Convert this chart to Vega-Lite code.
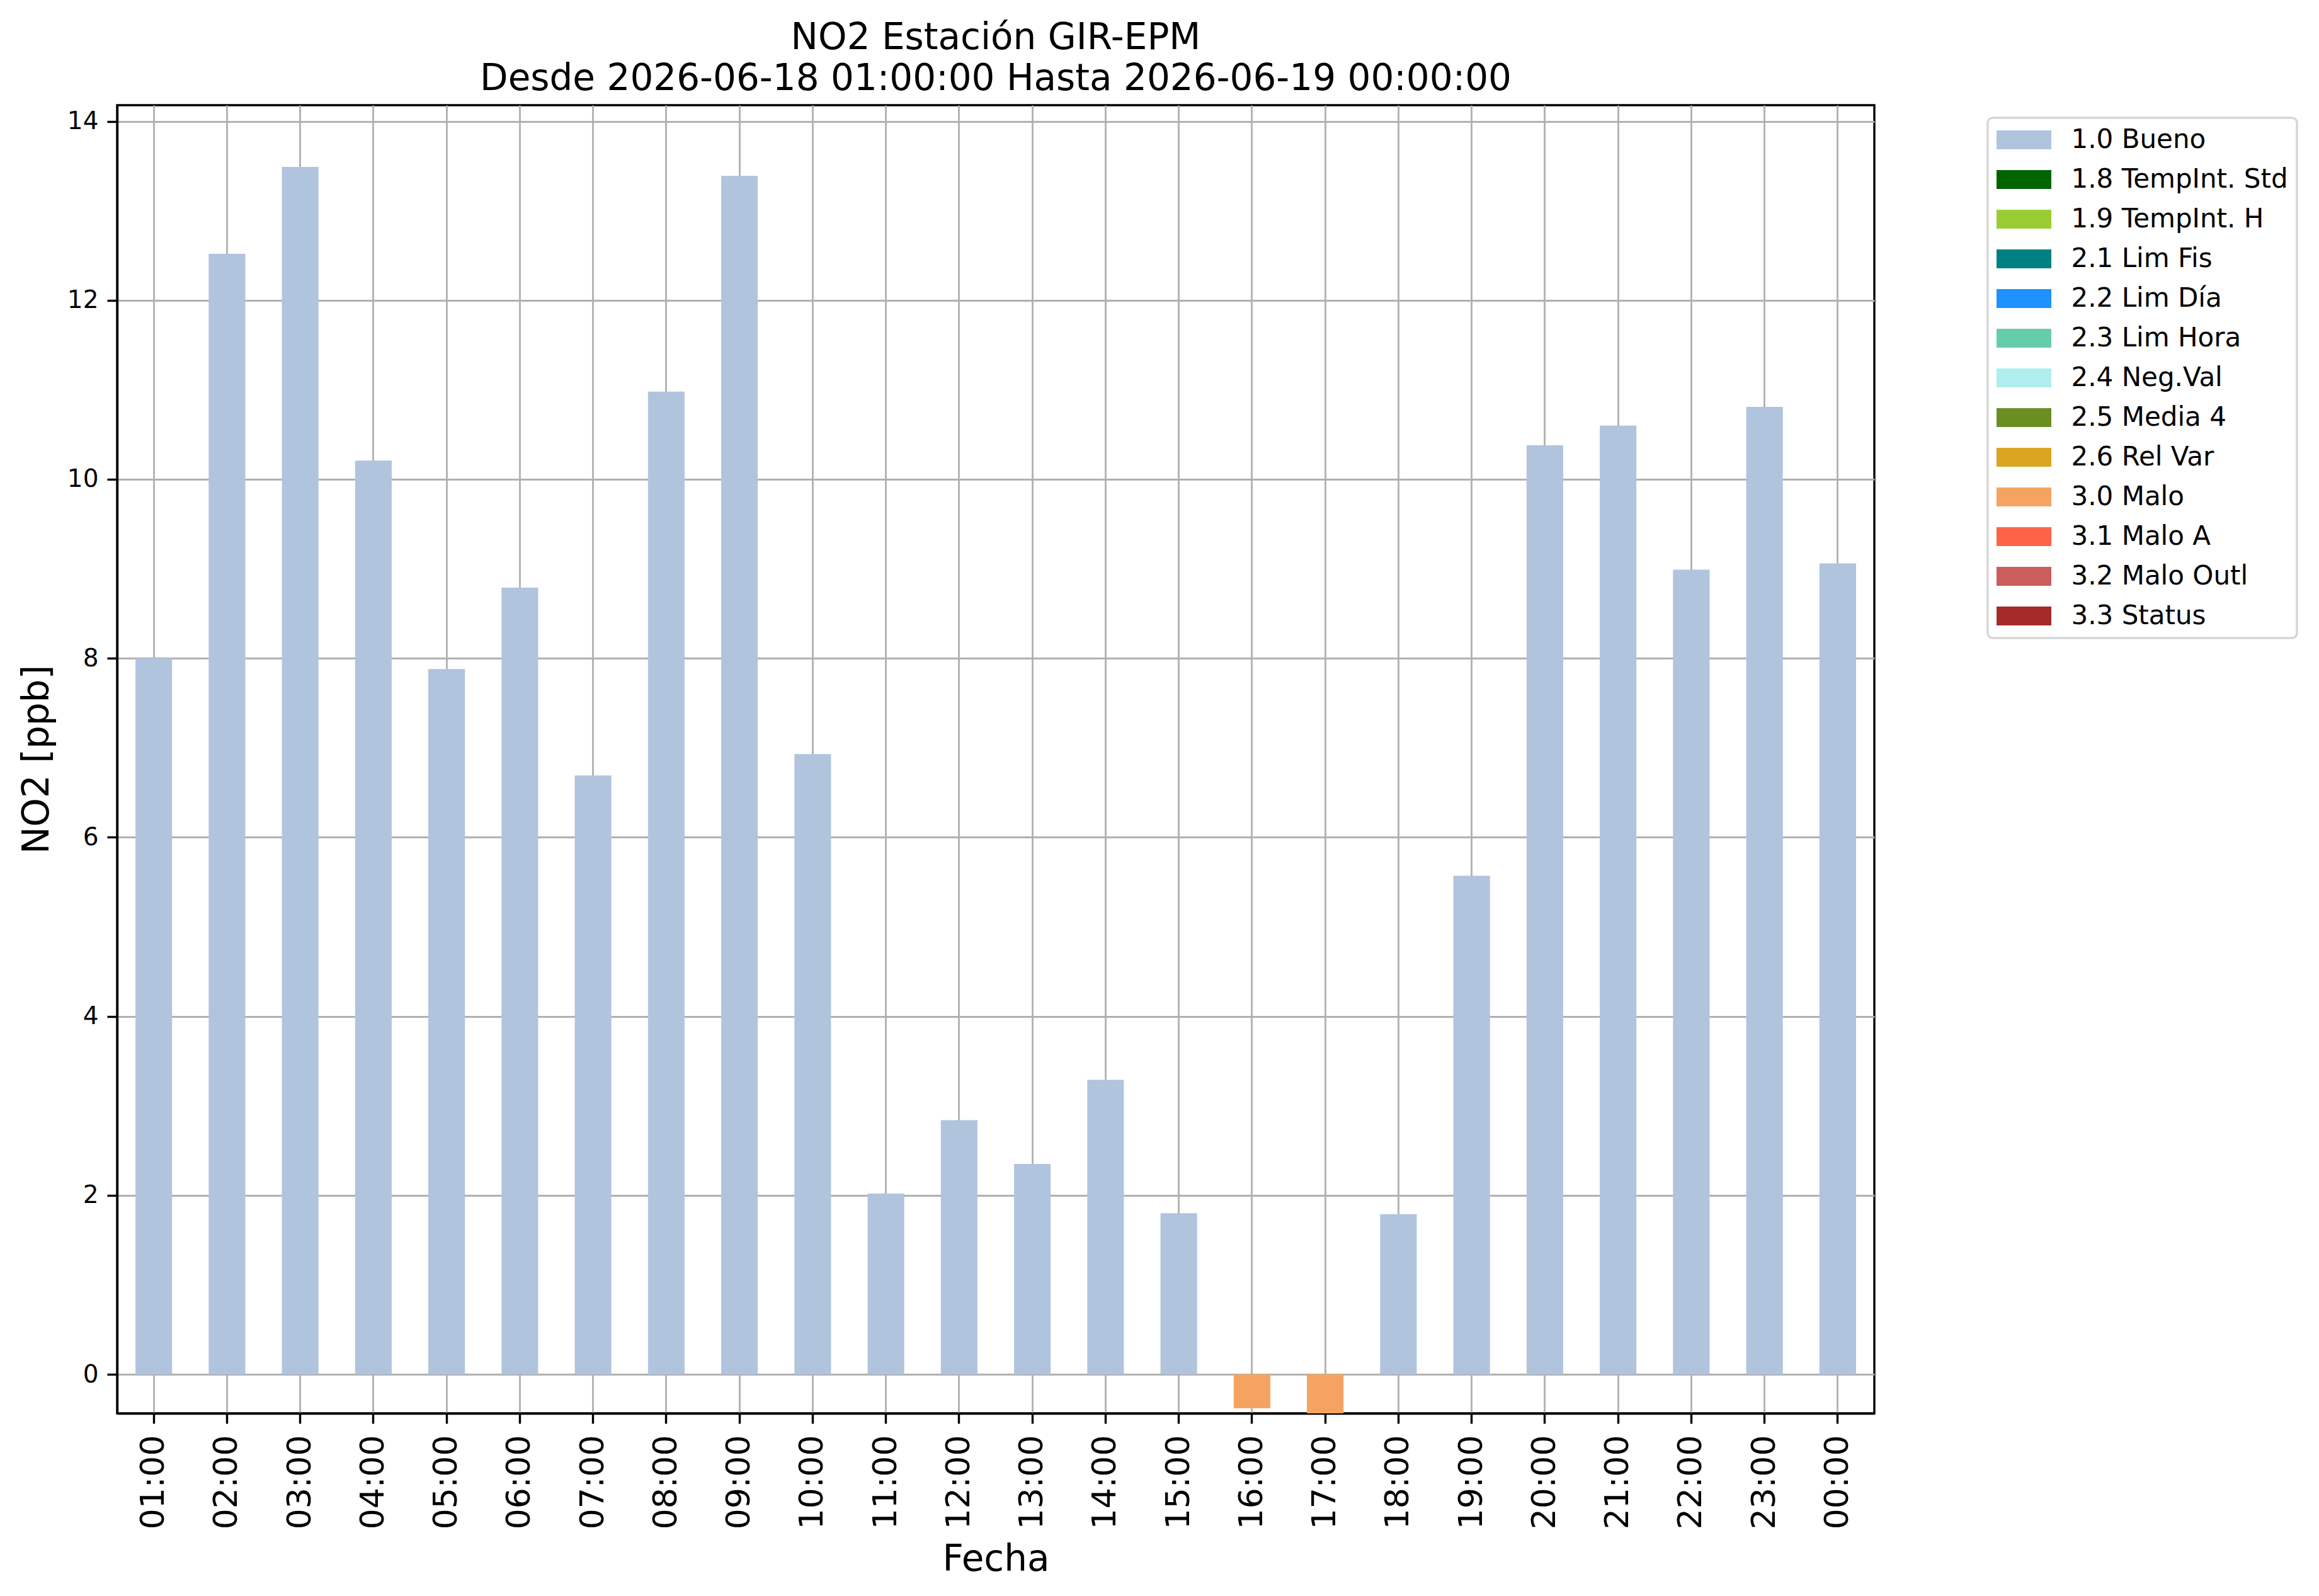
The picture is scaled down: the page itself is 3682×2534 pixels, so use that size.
{
  "$schema": "https://vega.github.io/schema/vega-lite/v6.json",
  "width": 2790,
  "height": 2077,
  "autosize": {"type": "none"},
  "padding": {"left": 186, "top": 167, "right": 706, "bottom": 290},
  "background": "white",
  "config": {
    "font": "DejaVu Sans",
    "view": {"stroke": "black", "strokeWidth": 3.4},
    "axis": {
      "labelFont": "DejaVu Sans",
      "titleFont": "DejaVu Sans",
      "labelColor": "black",
      "titleColor": "black",
      "titleFontWeight": "normal",
      "domainColor": "black",
      "domainWidth": 3.4,
      "tickColor": "black",
      "tickWidth": 3.4,
      "tickSize": 16,
      "gridColor": "#b0b0b0",
      "gridWidth": 2.8,
      "gridOpacity": 1,
      "zindex": 1
    },
    "legend": {
      "strokeColor": "#d6d6d6",
      "strokeWidth": 3.5,
      "cornerRadius": 8,
      "fillColor": "white",
      "padding": 14
    }
  },
  "title": {
    "text": ["NO2 Estación GIR-EPM", "Desde 2026-06-18 01:00:00 Hasta 2026-06-19 00:00:00"],
    "fontSize": 58,
    "fontWeight": "normal",
    "font": "DejaVu Sans",
    "color": "black",
    "lineHeight": 65,
    "frame": "group",
    "anchor": "middle",
    "offset": 12
  },
  "data": {
    "values": [
      {"hora": "01:00", "NO2": 8.0, "flag": "1.0 Bueno"},
      {"hora": "02:00", "NO2": 12.52, "flag": "1.0 Bueno"},
      {"hora": "03:00", "NO2": 13.49, "flag": "1.0 Bueno"},
      {"hora": "04:00", "NO2": 10.21, "flag": "1.0 Bueno"},
      {"hora": "05:00", "NO2": 7.88, "flag": "1.0 Bueno"},
      {"hora": "06:00", "NO2": 8.79, "flag": "1.0 Bueno"},
      {"hora": "07:00", "NO2": 6.69, "flag": "1.0 Bueno"},
      {"hora": "08:00", "NO2": 10.98, "flag": "1.0 Bueno"},
      {"hora": "09:00", "NO2": 13.39, "flag": "1.0 Bueno"},
      {"hora": "10:00", "NO2": 6.93, "flag": "1.0 Bueno"},
      {"hora": "11:00", "NO2": 2.02, "flag": "1.0 Bueno"},
      {"hora": "12:00", "NO2": 2.84, "flag": "1.0 Bueno"},
      {"hora": "13:00", "NO2": 2.35, "flag": "1.0 Bueno"},
      {"hora": "14:00", "NO2": 3.29, "flag": "1.0 Bueno"},
      {"hora": "15:00", "NO2": 1.8, "flag": "1.0 Bueno"},
      {"hora": "16:00", "NO2": -0.38, "flag": "3.0 Malo"},
      {"hora": "17:00", "NO2": -0.436, "flag": "3.0 Malo"},
      {"hora": "18:00", "NO2": 1.79, "flag": "1.0 Bueno"},
      {"hora": "19:00", "NO2": 5.57, "flag": "1.0 Bueno"},
      {"hora": "20:00", "NO2": 10.38, "flag": "1.0 Bueno"},
      {"hora": "21:00", "NO2": 10.6, "flag": "1.0 Bueno"},
      {"hora": "22:00", "NO2": 8.99, "flag": "1.0 Bueno"},
      {"hora": "23:00", "NO2": 10.81, "flag": "1.0 Bueno"},
      {"hora": "00:00", "NO2": 9.06, "flag": "1.0 Bueno"}
    ]
  },
  "mark": {"type": "bar", "opacity": 1},
  "encoding": {
    "x": {
      "field": "hora",
      "type": "nominal",
      "sort": null,
      "title": "Fecha",
      "scale": {"paddingInner": 0.5, "paddingOuter": 0.25},
      "axis": {
        "labelAngle": 270,
        "labelFontSize": 52,
        "labelPadding": 18,
        "titleFontSize": 58,
        "titlePadding": 20,
        "grid": true
      }
    },
    "y": {
      "field": "NO2",
      "type": "quantitative",
      "title": "NO2 [ppb]",
      "scale": {"domain": [-0.436, 14.18], "nice": false, "zero": false},
      "axis": {
        "values": [0, 2, 4, 6, 8, 10, 12, 14],
        "labelFontSize": 39,
        "labelPadding": 14,
        "titleFontSize": 58,
        "titlePadding": 18,
        "grid": true
      }
    },
    "color": {
      "field": "flag",
      "type": "nominal",
      "scale": {
        "domain": ["1.0 Bueno", "1.8 TempInt. Std", "1.9 TempInt. H", "2.1 Lim Fis", "2.2 Lim Día", "2.3 Lim Hora", "2.4 Neg.Val", "2.5 Media 4", "2.6 Rel Var", "3.0 Malo", "3.1 Malo A", "3.2 Malo Outl", "3.3 Status"],
        "range": ["#b0c4de", "#006400", "#9acd32", "#008080", "#1e90ff", "#66cdaa", "#afeeee", "#6b8e23", "#daa520", "#f4a460", "#ff6347", "#cd5c5c", "#a52a2a"]
      },
      "legend": {
        "title": null,
        "orient": "none",
        "legendX": 2970,
        "legendY": 20,
        "symbolType": "M-2.9,-1H2.9V1H-2.9Z",
        "symbolSize": 900,
        "symbolOffset": 22.5,
        "symbolStrokeWidth": 0,
        "symbolOpacity": 1,
        "labelFont": "DejaVu Sans",
        "labelFontSize": 42,
        "labelColor": "black",
        "labelOffset": 54,
        "labelLimit": 0,
        "rowPadding": 21
      }
    }
  }
}
